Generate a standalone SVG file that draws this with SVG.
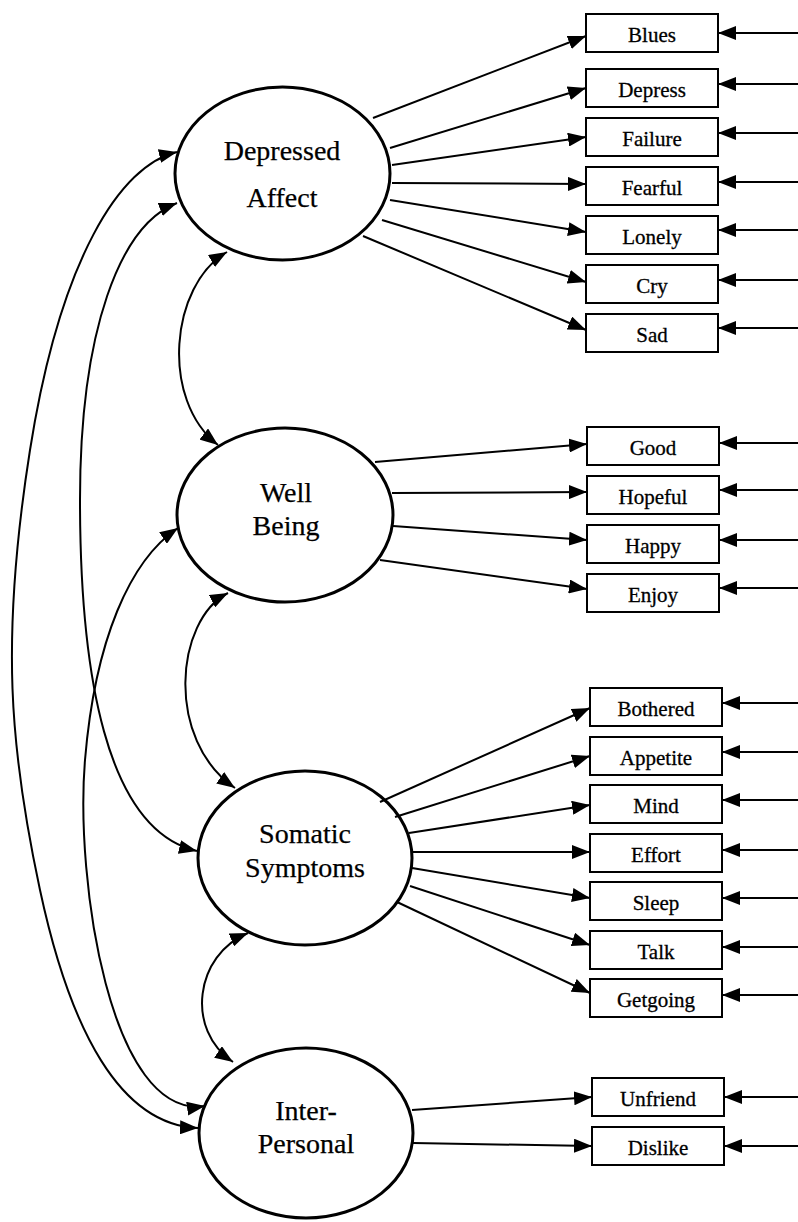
<svg xmlns="http://www.w3.org/2000/svg" width="798" height="1222" viewBox="0 0 798 1222">
<style>
.ell{fill:#fff;stroke:#000;stroke-width:3}
.box{fill:#fff;stroke:#000;stroke-width:2}
.lt{font-family:"Liberation Serif","Times New Roman",serif;font-size:28px;text-anchor:middle;fill:#000;stroke:#000;stroke-width:0.25}
.bt{font-family:"Liberation Serif","Times New Roman",serif;font-size:21px;text-anchor:middle;fill:#000;stroke:#000;stroke-width:0.3}
.ln{fill:none;stroke:#000;stroke-width:2;marker-end:url(#ah)}
.cv{fill:none;stroke:#000;stroke-width:2;marker-start:url(#ah);marker-end:url(#ah)}
</style>
<defs>
<marker id="ah" markerUnits="userSpaceOnUse" markerWidth="18" markerHeight="14" refX="18" refY="7" orient="auto-start-reverse" viewBox="0 0 18 14">
<path d="M0,0 L18,7 L0,14 z" fill="#000"/>
</marker>
</defs>
<rect width="798" height="1222" fill="#fff"/>

<g id="node-depressed-affect">
<ellipse class="ell" cx="282.5" cy="173.5" rx="107.5" ry="86.5"/>
<text class="lt" x="282" y="160">Depressed</text>
<text class="lt" x="282" y="207">Affect</text>
</g>
<g id="node-well-being">
<ellipse class="ell" cx="285" cy="515" rx="108" ry="87"/>
<text class="lt" x="286" y="502">Well</text>
<text class="lt" x="286" y="535">Being</text>
</g>
<g id="node-somatic-symptoms">
<ellipse class="ell" cx="305" cy="858" rx="107" ry="87"/>
<text class="lt" x="305" y="843">Somatic</text>
<text class="lt" x="305" y="877">Symptoms</text>
</g>
<g id="node-interpersonal">
<ellipse class="ell" cx="306" cy="1133" rx="107" ry="85"/>
<text class="lt" x="306" y="1120">Inter-</text>
<text class="lt" x="306" y="1153">Personal</text>
</g>

<g id="node-blues"><rect class="box" x="586" y="14" width="132" height="38"/><text class="bt" x="652" y="42">Blues</text></g>
<g id="node-depress"><rect class="box" x="586" y="69" width="132" height="38"/><text class="bt" x="652" y="97">Depress</text></g>
<g id="node-failure"><rect class="box" x="586" y="118" width="132" height="38"/><text class="bt" x="652" y="146">Failure</text></g>
<g id="node-fearful"><rect class="box" x="586" y="167" width="132" height="38"/><text class="bt" x="652" y="195">Fearful</text></g>
<g id="node-lonely"><rect class="box" x="586" y="216" width="132" height="38"/><text class="bt" x="652" y="244">Lonely</text></g>
<g id="node-cry"><rect class="box" x="586" y="265" width="132" height="38"/><text class="bt" x="652" y="293">Cry</text></g>
<g id="node-sad"><rect class="box" x="586" y="314" width="132" height="38"/><text class="bt" x="652" y="342">Sad</text></g>

<g id="node-good"><rect class="box" x="587" y="427" width="132" height="38"/><text class="bt" x="653" y="455">Good</text></g>
<g id="node-hopeful"><rect class="box" x="587" y="476" width="132" height="38"/><text class="bt" x="653" y="504">Hopeful</text></g>
<g id="node-happy"><rect class="box" x="587" y="525" width="132" height="38"/><text class="bt" x="653" y="553">Happy</text></g>
<g id="node-enjoy"><rect class="box" x="587" y="574" width="132" height="38"/><text class="bt" x="653" y="602">Enjoy</text></g>

<g id="node-bothered"><rect class="box" x="590" y="688" width="132" height="38"/><text class="bt" x="656" y="716">Bothered</text></g>
<g id="node-appetite"><rect class="box" x="590" y="737" width="132" height="38"/><text class="bt" x="656" y="765">Appetite</text></g>
<g id="node-mind"><rect class="box" x="590" y="785" width="132" height="38"/><text class="bt" x="656" y="813">Mind</text></g>
<g id="node-effort"><rect class="box" x="590" y="834" width="132" height="38"/><text class="bt" x="656" y="862">Effort</text></g>
<g id="node-sleep"><rect class="box" x="590" y="882" width="132" height="38"/><text class="bt" x="656" y="910">Sleep</text></g>
<g id="node-talk"><rect class="box" x="590" y="931" width="132" height="38"/><text class="bt" x="656" y="959">Talk</text></g>
<g id="node-getgoing"><rect class="box" x="590" y="979" width="132" height="38"/><text class="bt" x="656" y="1007">Getgoing</text></g>

<g id="node-unfriend"><rect class="box" x="592" y="1078" width="132" height="38"/><text class="bt" x="658" y="1106">Unfriend</text></g>
<g id="node-dislike"><rect class="box" x="592" y="1127" width="132" height="38"/><text class="bt" x="658" y="1155">Dislike</text></g>

<g id="connectors">
<path class="ln" d="M373,118 L586,36"/>
<path class="ln" d="M390,148 L586,88"/>
<path class="ln" d="M392,165 L586,137"/>
<path class="ln" d="M392,183 L586,184"/>
<path class="ln" d="M390,200 L586,232"/>
<path class="ln" d="M382,220 L586,282"/>
<path class="ln" d="M363,236 L586,330"/>

<path class="ln" d="M375,462 L587,444"/>
<path class="ln" d="M392,493 L587,492"/>
<path class="ln" d="M393,526 L587,540"/>
<path class="ln" d="M380,560 L587,589"/>

<path class="ln" d="M380,802 L590,708"/>
<path class="ln" d="M395,817 L590,756"/>
<path class="ln" d="M409,833 L590,805"/>
<path class="ln" d="M412,852 L590,852"/>
<path class="ln" d="M412,868 L590,898"/>
<path class="ln" d="M410,886 L590,945"/>
<path class="ln" d="M397,902 L590,993"/>

<path class="ln" d="M412,1110 L592,1097"/>
<path class="ln" d="M413,1143 L592,1146"/>

<path class="ln" d="M798,33 L718,33"/>
<path class="ln" d="M798,84 L718,84"/>
<path class="ln" d="M798,133 L718,133"/>
<path class="ln" d="M798,182 L718,182"/>
<path class="ln" d="M798,230 L718,230"/>
<path class="ln" d="M798,280 L718,280"/>
<path class="ln" d="M798,328 L718,328"/>

<path class="ln" d="M798,443 L719,443"/>
<path class="ln" d="M798,490 L719,490"/>
<path class="ln" d="M798,540 L719,540"/>
<path class="ln" d="M798,588 L719,588"/>

<path class="ln" d="M798,703 L722,703"/>
<path class="ln" d="M798,752 L722,752"/>
<path class="ln" d="M798,800 L722,800"/>
<path class="ln" d="M798,850 L722,850"/>
<path class="ln" d="M798,898 L722,898"/>
<path class="ln" d="M798,947 L722,947"/>
<path class="ln" d="M798,995 L722,995"/>

<path class="ln" d="M798,1097 L724,1097"/>
<path class="ln" d="M798,1146 L724,1146"/>

<path class="cv" d="M227,252 C170,285 160,400 218,445"/>
<path class="cv" d="M228,593 C175,620 165,740 235,788"/>
<path class="cv" d="M248,933 C195,955 185,1030 233,1062"/>
<path class="cv" d="M177,152 C120,165 60,260 30,450 S10,750 40,890 S120,1125 198,1128"/>
<path class="cv" d="M177,203 C120,225 80,330 80,500 S105,830 197,851"/>
<path class="cv" d="M178,528 C130,560 95,640 85,760 S110,1120 205,1106"/>
</g>
</svg>
